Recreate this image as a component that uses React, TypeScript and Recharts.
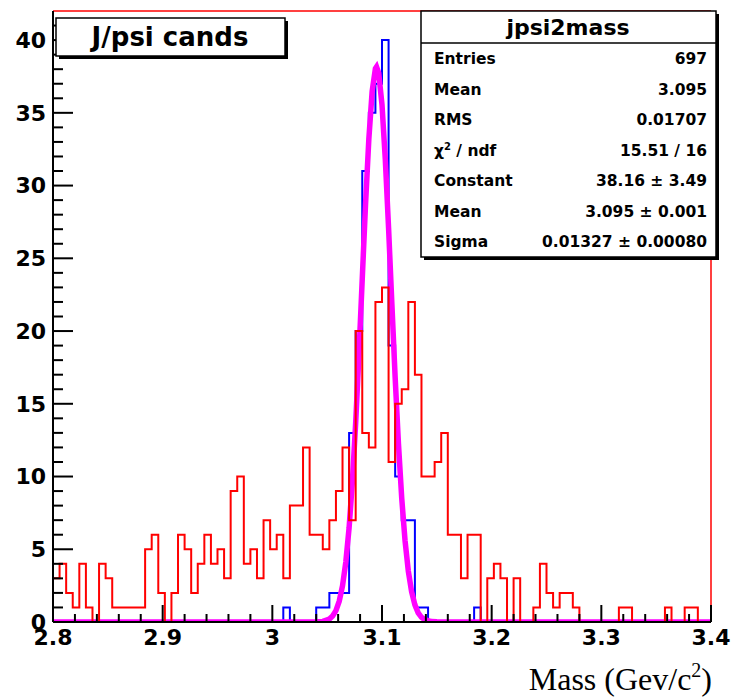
import { ComposedChart, Line, XAxis, YAxis, ReferenceLine } from "recharts";

// histogram range, 100 bins of 0.006
const X_MIN = 2.8;
const X_MAX = 3.4;
const Y_MAX = 42;

// counts per bin
const RED_COUNTS = [
	3, 4, 2, 1, 4, 1, 0, 4, 3, 1,
	1, 1, 1, 1, 5, 6, 2, 0, 2, 6,
	5, 2, 4, 6, 4, 5, 3, 9, 10, 4,
	5, 3, 7, 5, 6, 3, 8, 8, 12, 6,
	6, 5, 7, 9, 12, 7, 20, 13, 12, 22,
	23, 11, 15, 16, 22, 17, 10, 10, 11, 13,
	6, 6, 3, 6, 6, 0, 3, 4, 3, 0,
	3, 0, 0, 1, 4, 2, 1, 2, 2, 1,
	0, 0, 0, 0, 0, 0, 1, 1, 0, 0,
	0, 0, 0, 1, 0, 0, 1, 1, 0, 0,
];

const BLUE_COUNTS = [
	0, 0, 0, 0, 0, 0, 0, 0, 0, 0,
	0, 0, 0, 0, 0, 0, 0, 0, 0, 0,
	0, 0, 0, 0, 0, 0, 0, 0, 0, 0,
	0, 0, 0, 0, 0, 1, 0, 0, 0, 0,
	1, 1, 2, 2, 2, 13, 20, 31, 35, 37,
	40, 19, 10, 7, 7, 1, 1, 0, 0, 0,
	0, 0, 0, 0, 1, 0, 0, 0, 0, 0,
	0, 0, 0, 0, 0, 0, 0, 0, 0, 0,
	0, 0, 0, 0, 0, 0, 0, 0, 0, 0,
	0, 0, 0, 0, 0, 0, 0, 0, 0, 0,
];

// gaussian fit curve as drawn
const FIT_X = [
	2.8, 3.0, 3.04, 3.046, 3.052, 3.055, 3.058, 3.061, 3.064, 3.067, 3.07,
	3.073, 3.076, 3.079, 3.082, 3.085, 3.088, 3.091, 3.094, 3.095, 3.097,
	3.1, 3.103, 3.106, 3.109, 3.112, 3.115, 3.118, 3.121, 3.124, 3.127,
	3.13, 3.133, 3.136, 3.139, 3.145, 3.15, 3.2, 3.4,
];
const FIT_Y = [
	0, 0, 0.01, 0.04, 0.2, 0.41, 0.78, 1.43, 2.49, 4.12, 6.47,
	9.66, 13.69, 18.44, 23.61, 28.73, 33.2, 36.47, 38.05, 38.16, 37.73,
	35.55, 31.82, 27.07, 21.87, 16.8, 12.26, 8.5, 5.6, 3.5, 2.08,
	1.18, 0.63, 0.32, 0.16, 0.03, 0.01, 0, 0,
];

const X_MINOR = [
	2.82, 2.84, 2.86, 2.88, 2.92, 2.94, 2.96, 2.98,
	3.02, 3.04, 3.06, 3.08, 3.12, 3.14, 3.16, 3.18,
	3.22, 3.24, 3.26, 3.28, 3.32, 3.34, 3.36, 3.38,
];
const X_LABELS = [2.8, 2.9, 3, 3.1, 3.2, 3.3, 3.4];

const Y_MINOR = [
	1, 2, 3, 4, 6, 7, 8, 9, 11, 12, 13, 14, 16, 17, 18, 19,
	21, 22, 23, 24, 26, 27, 28, 29, 31, 32, 33, 34, 36, 37, 38, 39, 41,
];
const Y_LABELS = [0, 5, 10, 15, 20, 25, 30, 35, 40];

const STATS_LABELS = ["Entries", "Mean", "RMS", "chi", "Constant", "Mean", "Sigma"];
const STATS_VALUES = [
	"697",
	"3.095",
	"0.01707",
	"15.51 / 16",
	"38.16 \u00b1 3.49",
	"3.095 \u00b1 0.001",
	"0.01327 \u00b1 0.00080",
];

const W = 731;
const H = 700;
const FONT = "'DejaVu Sans', sans-serif";
const AXIS_LINE = { stroke: "#000", strokeWidth: 2 };

// plot frame (must agree with the chart margins / axis sizes below)
const PLOT_L = 53;
const PLOT_R = W - 20;
const PLOT_T = 11;
const PLOT_B = H - 78;
const px = (v: number) => PLOT_L + ((v - X_MIN) / (X_MAX - X_MIN)) * (PLOT_R - PLOT_L);
const py = (v: number) => PLOT_B - (v / Y_MAX) * (PLOT_B - PLOT_T);

function histPoints(counts: number[]) {
	const w = (X_MAX - X_MIN) / counts.length;
	const pts = counts.map((c, i) => ({ x: X_MIN + i * w, y: c }));
	pts.push({ x: X_MAX, y: counts[counts.length - 1] });
	return pts;
}

const redData = histPoints(RED_COUNTS);
const blueData = histPoints(BLUE_COUNTS);
const fitData = FIT_X.map((x, i) => ({ x, y: FIT_Y[i] }));

function renderXLabel(props: any) {
	const { x, y, payload } = props;
	return (
		<text key={`xl-${payload.value}`} x={x} y={y + 23} textAnchor="middle" fontFamily={FONT} fontWeight="bold" fontSize={22} fill="#000">
			{String(payload.value)}
		</text>
	);
}

function renderYLabel(props: any) {
	const { x, y, payload } = props;
	return (
		<text key={`yl-${payload.value}`} x={x - 7} y={y} dy="0.36em" textAnchor="end" fontFamily={FONT} fontWeight="bold" fontSize={22} fill="#000">
			{String(payload.value)}
		</text>
	);
}

// ROOT-style inward tick marks
function Ticks() {
	return (
		<g stroke="#000" strokeWidth={2}>
			{X_LABELS.map((v) => (
				<line key={`xM${v}`} x1={px(v)} x2={px(v)} y1={PLOT_B} y2={PLOT_B - 17} />
			))}
			{X_MINOR.map((v) => (
				<line key={`xm${v}`} x1={px(v)} x2={px(v)} y1={PLOT_B} y2={PLOT_B - 8} />
			))}
			{Y_LABELS.map((v) => (
				<line key={`yM${v}`} x1={PLOT_L} x2={PLOT_L + 20} y1={py(v)} y2={py(v)} />
			))}
			{Y_MINOR.map((v) => (
				<line key={`ym${v}`} x1={PLOT_L} x2={PLOT_L + 10} y1={py(v)} y2={py(v)} />
			))}
		</g>
	);
}

function Overlay() {
	const rowY0 = 64;
	const rowStep = 30.5;
	return (
		<svg width={W} height={H} style={{ position: "absolute", left: 0, top: 0, pointerEvents: "none" }}>
			<Ticks />

			{/* title box */}
			<rect x={59} y={21} width={229} height={38} fill="#000" />
			<rect x={56} y={18} width={229} height={38} fill="#fff" stroke="#000" strokeWidth={1.5} />
			<text x={170} y={46} textAnchor="middle" fontFamily={FONT} fontWeight="bold" fontSize={26} fill="#000">
				J/psi cands
			</text>

			{/* stats box */}
			<rect x={424} y={14} width={295} height={246} fill="#000" />
			<rect x={421} y={11} width={295} height={246} fill="#fff" stroke="#000" strokeWidth={1.5} />
			<line x1={421} x2={716} y1={43} y2={43} stroke="#000" strokeWidth={1.5} />
			<text x={568} y={35} textAnchor="middle" fontFamily={FONT} fontWeight="bold" fontSize={22} fill="#000">
				jpsi2mass
			</text>
			{STATS_LABELS.map((lab, i) => (
				<g key={i} fontFamily={FONT} fontWeight="bold" fontSize={15.5} fill="#000">
					<text x={434} y={rowY0 + i * rowStep}>
						{lab === "chi" ? (
							<>
								{"\u03c7"}
								<tspan dy={-6} fontSize={10}>2</tspan>
								<tspan dy={6}>{" / ndf"}</tspan>
							</>
						) : (
							lab
						)}
					</text>
					<text x={707} y={rowY0 + i * rowStep} textAnchor="end">
						{STATS_VALUES[i]}
					</text>
				</g>
			))}

			{/* x axis title */}
			<text x={712} y={690} textAnchor="end" fontFamily="'Liberation Serif', serif" fontSize={32} fill="#000">
				Mass (Gev/c
				<tspan dy={-13} fontSize={20}>2</tspan>
				<tspan dy={13}>)</tspan>
			</text>
		</svg>
	);
}

export default function App() {
	return (
		<div style={{ position: "absolute", left: 0, top: 0, width: W, height: H, background: "#fff" }}>
			<ComposedChart
				width={W}
				height={H}
				margin={{ top: PLOT_T, right: W - PLOT_R, left: 0, bottom: 0 }}
			>
				<XAxis
					type="number"
					dataKey="x"
					domain={[X_MIN, X_MAX]}
					allowDataOverflow
					ticks={X_LABELS}
					interval={0}
					height={H - PLOT_B}
					tickSize={0}
					tickMargin={0}
					tickLine={false}
					axisLine={AXIS_LINE}
					tick={renderXLabel}
				/>
				<YAxis
					type="number"
					domain={[0, Y_MAX]}
					allowDataOverflow
					ticks={Y_LABELS}
					interval={0}
					width={PLOT_L}
					tickSize={0}
					tickMargin={0}
					tickLine={false}
					axisLine={AXIS_LINE}
					tick={renderYLabel}
				/>
				<ReferenceLine y={Y_MAX} stroke="#ff0000" strokeWidth={1.5} />
				<ReferenceLine x={X_MAX} stroke="#ff0000" strokeWidth={1.5} />
				<Line
					data={blueData}
					dataKey="y"
					type="stepAfter"
					stroke="#0000ff"
					strokeWidth={2}
					dot={false}
					isAnimationActive={false}
				/>
				<Line
					data={fitData}
					dataKey="y"
					type="linear"
					stroke="#ff00ff"
					strokeWidth={5.5}
					dot={false}
					isAnimationActive={false}
				/>
				<Line
					data={redData}
					dataKey="y"
					type="stepAfter"
					stroke="#ff0000"
					strokeWidth={2}
					dot={false}
					isAnimationActive={false}
				/>
			</ComposedChart>
			<Overlay />
		</div>
	);
}
